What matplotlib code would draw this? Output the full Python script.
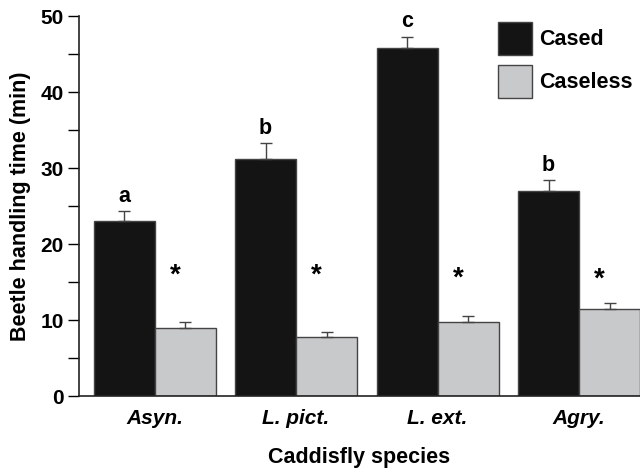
import matplotlib
matplotlib.use("Agg")
import matplotlib.pyplot as plt
import numpy as np
from matplotlib.ticker import MultipleLocator

plt.rcParams["font.family"] = ["Liberation Sans", "DejaVu Sans"]
plt.rcParams["font.weight"] = "bold"

species = ["Asyn.", "L. pict.", "L. ext.", "Agry."]
cased = [23.0, 31.2, 45.8, 27.0]
cased_se = [1.3, 2.1, 1.5, 1.4]
caseless = [9.0, 7.7, 9.8, 11.5]
caseless_se = [0.7, 0.7, 0.7, 0.7]
letters = ["a", "b", "c", "b"]
star_heights = [15.9, 15.8, 15.5, 15.3]

x = np.arange(len(species))
w = 0.431

fig = plt.figure(figsize=(6.4, 4.69), dpi=100)
ax = fig.add_axes([79 / 640, 1 - 396 / 469, 561 / 640, 380 / 469])

err_kw = dict(ecolor="#444444", elinewidth=1.0, capsize=4.5, capthick=1.0)
ax.bar(x - w / 2, cased, w, color="#141414", edgecolor="#444444", linewidth=1.0,
       yerr=[np.zeros(4), cased_se], error_kw=err_kw, label="Cased", zorder=2)
ax.bar(x + w / 2, caseless, w, color="#c8c9cb", edgecolor="#444444", linewidth=1.0,
       yerr=[np.zeros(4), caseless_se], error_kw=err_kw, label="Caseless", zorder=2)

for i in range(len(species)):
    ax.text(x[i] - w / 2, cased[i] + cased_se[i] + 1.2, letters[i], ha="center",
            va="baseline", fontsize=15.5, fontweight="bold")
    ax.text(x[i] + w / 2 - 0.07, star_heights[i], "*", ha="center", va="center",
            fontsize=20, fontweight="bold")

ax.set_xlim(-0.534, 3.431)
ax.set_ylim(0, 50)
ax.yaxis.set_major_locator(MultipleLocator(10))
ax.yaxis.set_minor_locator(MultipleLocator(5))
ax.tick_params(axis="y", which="both", direction="out", length=8, width=1.0,
               labelsize=15, pad=3)
ax.set_xticks(x)
ax.set_xticklabels(species, fontstyle="italic", fontweight="bold", fontsize=15)
ax.tick_params(axis="x", length=0, pad=9)
for lab in ax.get_yticklabels():
    lab.set_fontweight("bold")

for s in ["top", "right"]:
    ax.spines[s].set_visible(False)
for s in ["left", "bottom"]:
    ax.spines[s].set_linewidth(1.2)
    ax.spines[s].set_color("#222222")

ax.set_ylabel("Beetle handling time (min)", fontsize=15.5, fontweight="bold", labelpad=7)
ax.set_xlabel("Caddisfly species", fontsize=15.5, fontweight="bold", labelpad=14)

ax.legend(loc="upper left", bbox_to_anchor=(498 / 640, 1 - 22 / 469),
          bbox_transform=fig.transFigure, frameon=False, fontsize=15.5,
          handlelength=1.6, handleheight=2.0, handletextpad=0.3,
          labelspacing=0.45, borderpad=0, borderaxespad=0)

fig.savefig("out.png", dpi=100)
